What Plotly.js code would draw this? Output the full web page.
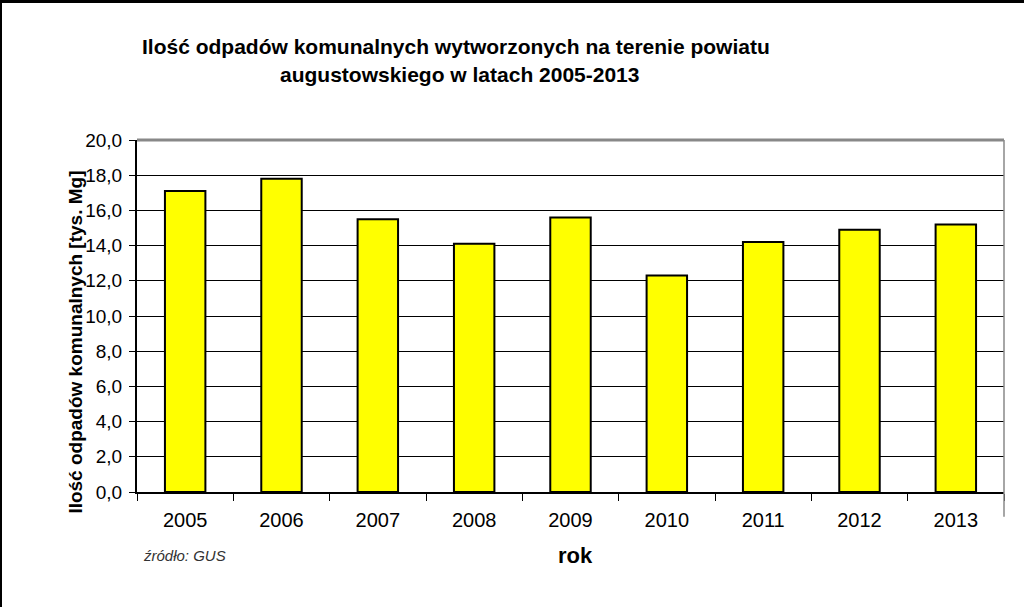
<!DOCTYPE html>
<html>
<head>
<meta charset="utf-8">
<script src="https://cdn.plot.ly/plotly-3.0.1.min.js"></script>
<style>
html,body{margin:0;padding:0;background:#fff;}
#chart{width:1024px;height:607px;}
</style>
</head>
<body>
<div id="chart"></div>
<script>
const years = ['2005','2006','2007','2008','2009','2010','2011','2012','2013'];
const values = [17.1, 17.8, 15.5, 14.1, 15.6, 12.3, 14.2, 14.9, 15.2];
const yTicks = [0,2,4,6,8,10,12,14,16,18,20];
const yTickLabels = ['0,0','2,0','4,0','6,0','8,0','10,0','12,0','14,0','16,0','18,0','20,0'];
const titleLines = ['Ilość odpadów komunalnych wytworzonych na terenie powiatu','augustowskiego w latach 2005-2013'];
const yTitle = 'Ilość odpadów komunalnych [tys. Mg]';
const xTitle = 'rok';
const sourceText = 'źródło: GUS';

const font = '"Liberation Sans Narrow", "Liberation Sans", Arial, sans-serif';

const trace = {
  type: 'bar',
  x: years,
  y: values,
  marker: {color: '#FFFF00', line: {color: '#000000', width: 2}},
  hoverinfo: 'x+y'
};

const layout = {
  width: 1024, height: 607,
  margin: {l: 137, r: 20, t: 140, b: 115},
  paper_bgcolor: '#ffffff', plot_bgcolor: '#ffffff',
  bargap: 0.58,
  showlegend: false,
  xaxis: {
    type: 'category',
    showline: true, linecolor: '#000', linewidth: 2,
    ticks: 'outside', tickson: 'boundaries', ticklen: 7, tickcolor: '#000', tickwidth: 1,
    ticklabelstandoff: 9,
    tickfont: {family: font, size: 20, color: '#000'},
    showgrid: false, zeroline: false
  },
  yaxis: {
    range: [0, 20],
    tickvals: yTicks, ticktext: yTickLabels,
    showline: true, linecolor: '#000', linewidth: 2,
    ticks: 'outside', ticklen: 6, tickcolor: '#000',
    ticklabelstandoff: 3,
    tickfont: {family: font, size: 19, color: '#000'},
    showgrid: true, gridcolor: '#000', gridwidth: 1,
    zeroline: false
  },
  shapes: [
    {type: 'line', xref: 'paper', yref: 'paper', x0: 0, x1: 1, y0: 1, y1: 1, line: {color: '#888', width: 3}},
    {type: 'line', xref: 'paper', yref: 'paper', x0: 1, x1: 1, y0: 0, y1: 1, line: {color: '#888', width: 1.5}},
    {type: 'line', xref: 'paper', yref: 'paper', x0: 1, x1: 1, y0: 0, y1: -0.07, line: {color: '#888', width: 1.5}}
  ],
  annotations: [
    {text: '<b>' + titleLines[0] + '</b>', xref: 'paper', yref: 'paper', x: 0.368, y: 1.265, xanchor: 'center', yanchor: 'middle', showarrow: false, font: {family: font, size: 21, color: '#000'}},
    {text: '<b>' + titleLines[1] + '</b>', xref: 'paper', yref: 'paper', x: 0.372, y: 1.185, xanchor: 'center', yanchor: 'middle', showarrow: false, font: {family: font, size: 21, color: '#000'}},
    {text: '<b>' + yTitle + '</b>', xref: 'paper', yref: 'paper', x: -0.072, y: 0.426, xanchor: 'center', yanchor: 'middle', textangle: -90, showarrow: false, font: {family: font, size: 19, color: '#000'}},
    {text: '<b>' + xTitle + '</b>', xref: 'paper', yref: 'paper', x: 0.506, y: -0.18, xanchor: 'center', yanchor: 'middle', showarrow: false, font: {family: font, size: 22, color: '#000'}},
    {text: '<i>' + sourceText + '</i>', xref: 'paper', yref: 'paper', x: 0.055, y: -0.18, xanchor: 'center', yanchor: 'middle', showarrow: false, font: {family: font, size: 15, color: '#333'}}
  ]
};

Plotly.newPlot('chart', [trace], layout, {displayModeBar: false, staticPlot: true});
</script>
<div style="position:absolute;left:0;top:0;width:1024px;height:3px;background:#000;"></div>
<div style="position:absolute;left:0;top:0;width:2px;height:607px;background:#000;"></div>
</body>
</html>
